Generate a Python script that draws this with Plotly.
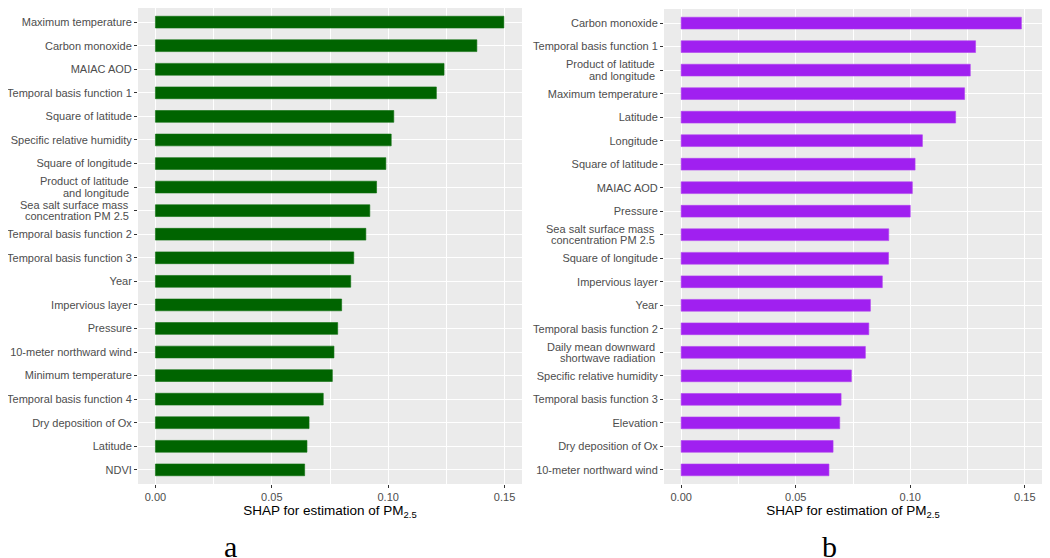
import plotly.graph_objects as go

# Panel a (top to bottom)
labels_a = [
    "Maximum temperature", "Carbon monoxide", "MAIAC AOD", "Temporal basis function 1",
    "Square of latitude", "Specific relative humidity", "Square of longitude",
    "Product of latitude<br>and longitude", "Sea salt surface mass<br>concentration PM 2.5",
    "Temporal basis function 2", "Temporal basis function 3", "Year", "Impervious layer",
    "Pressure", "10-meter northward wind", "Minimum temperature", "Temporal basis function 4",
    "Dry deposition of Ox", "Latitude", "NDVI",
]
values_a = [0.1497, 0.1381, 0.1240, 0.1207, 0.1024, 0.1013, 0.0990, 0.0950, 0.0921,
            0.0904, 0.0852, 0.0839, 0.0800, 0.0783, 0.0767, 0.0760, 0.0721, 0.0660,
            0.0651, 0.0641]

# Panel b (top to bottom)
labels_b = [
    "Carbon monoxide", "Temporal basis function 1", "Product of latitude<br>and longitude",
    "Maximum temperature", "Latitude", "Longitude", "Square of latitude", "MAIAC AOD",
    "Pressure", "Sea salt surface mass<br>concentration PM 2.5", "Square of longitude",
    "Impervious layer", "Year", "Temporal basis function 2",
    "Daily mean downward<br>shortwave radiation", "Specific relative humidity",
    "Temporal basis function 3", "Elevation", "Dry deposition of Ox", "10-meter northward wind",
]
values_b = [0.1485, 0.1285, 0.1262, 0.1237, 0.1198, 0.1053, 0.1021, 0.1009, 0.1000,
            0.0906, 0.0905, 0.0878, 0.0826, 0.0819, 0.0804, 0.0743, 0.0698, 0.0692,
            0.0663, 0.0645]

x_tickvals = [0.0, 0.05, 0.10, 0.15]
x_ticktext = ["0.00", "0.05", "0.10", "0.15"]
x_title = "SHAP for estimation of PM<sub>2.5</sub>"
panel_letters = ["a", "b"]

# page has an 8px body margin: figure drawn from (8, 8)
OFF = 8
W, H = 1050 - OFF, 558 - OFF
FONT = "Liberation Sans, Arial, Helvetica, sans-serif"
SERIF = "Liberation Serif, Times New Roman, serif"
BG = "#EBEBEB"
TXT = "#4D4D4D"


def px_x(p):
    return min(1.0, max(0.0, (p - OFF) / W))


def px_y(p):
    return min(1.0, max(0.0, 1 - (p - OFF) / H))


fig = go.Figure()
fig.add_trace(go.Bar(x=values_a, y=labels_a, orientation="h", width=0.5,
                     marker=dict(color="#006400", line=dict(color="#0B6E0B", width=0.6)),
                     xaxis="x", yaxis="y", showlegend=False))
fig.add_trace(go.Bar(x=values_b, y=labels_b, orientation="h", width=0.5,
                     marker=dict(color="#A020F0", line=dict(color="#B040F0", width=0.6)),
                     xaxis="x2", yaxis="y2", showlegend=False))


def xax(domain, anchor):
    return dict(domain=domain, anchor=anchor, range=[-0.0075, 0.1575],
                tickvals=x_tickvals, ticktext=x_ticktext,
                showgrid=True, gridcolor="white", gridwidth=1.1,
                minor=dict(dtick=0.025, tick0=0, showgrid=True, gridcolor="white",
                           gridwidth=0.5, ticks=""),
                ticks="outside", ticklen=3, tickcolor="#333333", tickwidth=1,
                tickfont=dict(family=FONT, size=11, color=TXT),
                zeroline=False, showline=False, fixedrange=True,
                title=dict(text=x_title, font=dict(family=FONT, size=13.5, color="#000000"),
                           standoff=3))


def yax(domain, anchor, labels):
    # multi-line labels are written as annotations (tighter line spacing, as in the reference)
    ticktext = [" " if "<br>" in s else s for s in labels]
    return dict(domain=domain, anchor=anchor, type="category",
                categoryorder="array", categoryarray=labels,
                tickvals=labels, ticktext=ticktext,
                range=[len(labels) - 0.4, -0.6],
                showgrid=True, gridcolor="white", gridwidth=1.1,
                ticks="outside", ticklen=3, tickcolor="#333333", tickwidth=1,
                tickfont=dict(family=FONT, size=11, color=TXT),
                zeroline=False, showline=False, fixedrange=True)


annotations = []
for labels, xr, yr in [(labels_a, "x domain", "y"), (labels_b, "x2 domain", "y2")]:
    for s in labels:
        if "<br>" in s:
            lines = s.split("<br>")
            for k, line in enumerate(lines):
                annotations.append(dict(
                    text=line, xref=xr, yref=yr, x=0, y=s, xanchor="right", yanchor="middle",
                    xshift=-7, yshift=5.7 - 11.4 * k, showarrow=False,
                    font=dict(family=FONT, size=11, color=TXT)))

for letter, cx in zip(panel_letters, [230, 829]):
    annotations.append(dict(
        text=letter, xref="paper", yref="paper", x=px_x(cx), y=0,
        xanchor="center", yanchor="bottom", yshift=-7, showarrow=False,
        font=dict(family=SERIF, size=30, color="#000000")))

fig.update_layout(
    width=W, height=H, margin=dict(l=0, r=0, t=0, b=0),
    paper_bgcolor="white", plot_bgcolor=BG, bargap=0.5,
    xaxis=xax([px_x(138), px_x(522)], "y"),
    yaxis=yax([px_y(484), px_y(8)], "x", labels_a),
    xaxis2=xax([px_x(664), px_x(1042)], "y2"),
    yaxis2=yax([px_y(484), px_y(9)], "x2", labels_b),
    annotations=annotations,
)

fig.write_html("out.html")
